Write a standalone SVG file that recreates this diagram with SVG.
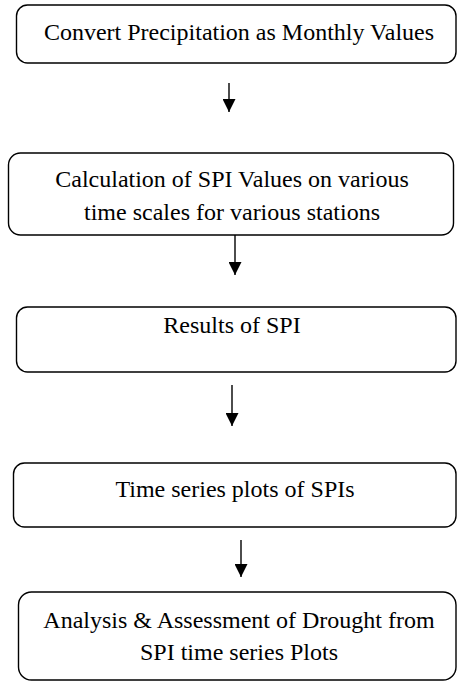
<svg xmlns="http://www.w3.org/2000/svg" width="457" height="685" viewBox="0 0 457 685">
  <defs>
    <marker id="arrowhead" markerWidth="13" markerHeight="13" refX="13" refY="6.5" orient="auto" markerUnits="userSpaceOnUse" viewBox="0 0 13 13">
      <path d="M0,0 L13,6.5 L0,13 Z" fill="#000"/>
    </marker>
    <style>
      .box { fill: #fff; stroke: #000; stroke-width: 1.4; }
      .label { font-family: 'Liberation Serif', 'Times New Roman', serif; font-size: 24px; fill: #000; text-anchor: middle; }
      .conn { stroke: #000; stroke-width: 1.4; fill: none; marker-end: url(#arrowhead); }
    </style>
  </defs>
  <rect width="457" height="685" fill="#fff"/>

  <g id="node-convert">
    <rect class="box" x="16.5" y="5" width="439.5" height="58" rx="11"/>
    <text class="label" x="239" y="40">Convert Precipitation as Monthly Values</text>
  </g>

  <g id="node-calculation">
    <rect class="box" x="8.5" y="153" width="445" height="82" rx="12"/>
    <text class="label" x="232" y="187">Calculation of SPI Values on various</text>
    <text class="label" x="232" y="220">time scales for various stations</text>
  </g>

  <g id="node-results">
    <rect class="box" x="16.5" y="307" width="439.5" height="65" rx="11"/>
    <text class="label" x="232" y="333">Results of SPI</text>
  </g>

  <g id="node-timeseries">
    <rect class="box" x="13.5" y="463" width="442.5" height="64" rx="11"/>
    <text class="label" x="235" y="497">Time series plots of SPIs</text>
  </g>

  <g id="node-analysis">
    <rect class="box" x="18.5" y="592" width="437.5" height="88" rx="13"/>
    <text class="label" x="239" y="628">Analysis &amp; Assessment of Drought from</text>
    <text class="label" x="239" y="660">SPI time series Plots</text>
  </g>

  <g id="connectors">
    <line class="conn" x1="229" y1="83" x2="229" y2="112"/>
    <line class="conn" x1="235" y1="235" x2="235" y2="275"/>
    <line class="conn" x1="232" y1="385" x2="232" y2="426"/>
    <line class="conn" x1="241" y1="540" x2="241" y2="577"/>
  </g>
</svg>
